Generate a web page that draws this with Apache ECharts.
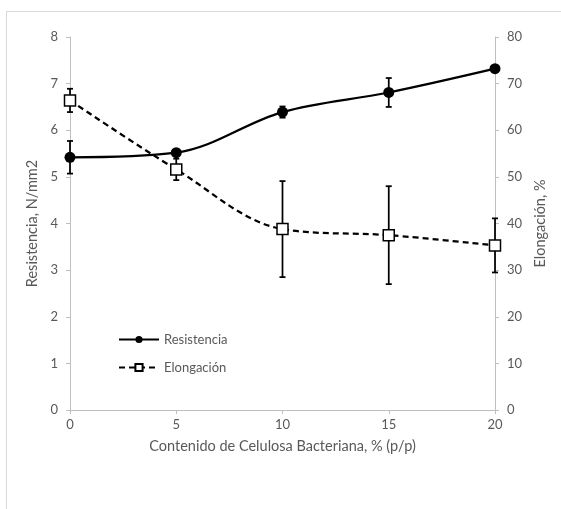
<!DOCTYPE html>
<html>
<head>
<meta charset="utf-8">
<script src="https://cdn.jsdelivr.net/npm/echarts@6/dist/echarts.min.js"></script>
<style>html,body{margin:0;padding:0;background:#fff;}#c{width:561px;height:509px;}</style>
</head>
<body>
<div id="c"></div>
<script>
var xValues = [0, 5, 10, 15, 20];
var resistencia = [5.42, 5.52, 6.39, 6.81, 7.32];
var resistenciaErr = [0.35, 0.05, 0.12, 0.31, 0.05];
var elongacion = [66.4, 51.6, 38.8, 37.5, 35.3];
var elongacionErr = [2.5, 2.3, 10.3, 10.5, 5.8];

var FONT = 'Lato';
var TXT = '#595959';

function pairs(ys){ return xValues.map(function(x,i){ return [x, ys[i]]; }); }
function errData(ys, es){ return xValues.map(function(x,i){ return [x, ys[i]-es[i], ys[i]+es[i]]; }); }
function errRender(params, api){
  var x = api.value(0), lo = api.value(1), hi = api.value(2);
  var p1 = api.coord([x, hi]), p2 = api.coord([x, lo]);
  var w = 3;
  var st = {stroke:'#000', lineWidth:1.75};
  return {type:'group', children:[
    {type:'line', shape:{x1:p1[0], y1:p1[1], x2:p2[0], y2:p2[1]}, style:st},
    {type:'line', shape:{x1:p1[0]-w, y1:p1[1], x2:p1[0]+w, y2:p1[1]}, style:st},
    {type:'line', shape:{x1:p2[0]-w, y1:p2[1], x2:p2[0]+w, y2:p2[1]}, style:st}
  ]};
}

var chart = echarts.init(document.getElementById('c'), null, {renderer:'canvas'});
chart.setOption({
  animation:false,
  backgroundColor:'#fff',
  textStyle:{fontFamily:FONT},
  graphic:[{type:'rect', shape:{x:6.5, y:11.5, width:700, height:700}, style:{fill:'none', stroke:'#d9d9d9', lineWidth:1}, silent:true}],
  grid:{left:70, right:66, top:37, bottom:99, containLabel:false},
  legend:{
    data:['Resistencia','Elongación'], orient:'vertical', left:113, top:328,
    itemWidth:40, itemHeight:9, itemGap:15,
    textStyle:{color:TXT, fontSize:13, fontFamily:FONT}
  },
  xAxis:{
    type:'value', min:0, max:20, interval:5,
    name:'Contenido de Celulosa Bacteriana, % (p/p)', nameLocation:'middle', nameGap:29,
    nameTextStyle:{color:TXT, fontSize:14.5, fontFamily:FONT},
    axisLine:{lineStyle:{color:'#bfbfbf', width:1}},
    axisTick:{show:true, length:4, lineStyle:{color:'#bfbfbf'}},
    axisLabel:{color:TXT, fontSize:13, margin:8, fontFamily:FONT},
    splitLine:{show:false}
  },
  yAxis:[{
    type:'value', min:0, max:8, interval:1, position:'left',
    name:'Resistencia, N/mm2', nameLocation:'middle', nameGap:26, nameRotate:90,
    nameTextStyle:{color:TXT, fontSize:14.5, fontFamily:FONT},
    axisLine:{show:true, lineStyle:{color:'#bfbfbf', width:1}},
    axisTick:{show:true, length:4, lineStyle:{color:'#bfbfbf'}},
    axisLabel:{color:TXT, fontSize:13, margin:12, fontFamily:FONT},
    splitLine:{show:false}
  },{
    type:'value', min:0, max:80, interval:10, position:'right',
    name:'Elongación, %', nameLocation:'middle', nameGap:35, nameRotate:90,
    nameTextStyle:{color:TXT, fontSize:14.5, fontFamily:FONT},
    axisLine:{show:true, lineStyle:{color:'#bfbfbf', width:1}},
    axisTick:{show:true, length:4, lineStyle:{color:'#bfbfbf'}},
    axisLabel:{color:TXT, fontSize:13, margin:12, fontFamily:FONT},
    splitLine:{show:false}
  }],
  series:[
    {name:'errR', type:'custom', yAxisIndex:0, renderItem:errRender, data:errData(resistencia, resistenciaErr), encode:{x:0, y:[1,2]}, z:1, silent:true},
    {name:'errE', type:'custom', yAxisIndex:1, renderItem:errRender, data:errData(elongacion, elongacionErr), encode:{x:0, y:[1,2]}, z:1, silent:true},
    {name:'Resistencia', type:'line', yAxisIndex:0, data:pairs(resistencia), smooth:0.35,
      symbol:'circle', symbolSize:11, color:'#000',
      lineStyle:{color:'#000', width:2.25}, itemStyle:{color:'#000'}, z:3},
    {name:'Elongación', type:'line', yAxisIndex:1, data:pairs(elongacion), smooth:0.35,
      symbol:'rect', symbolSize:11, color:'#000',
      lineStyle:{color:'#000', width:2.25, type:[6,4]}, itemStyle:{color:'#fff', borderColor:'#000', borderWidth:1.5}, z:3}
  ]
});
</script>
</body>
</html>
